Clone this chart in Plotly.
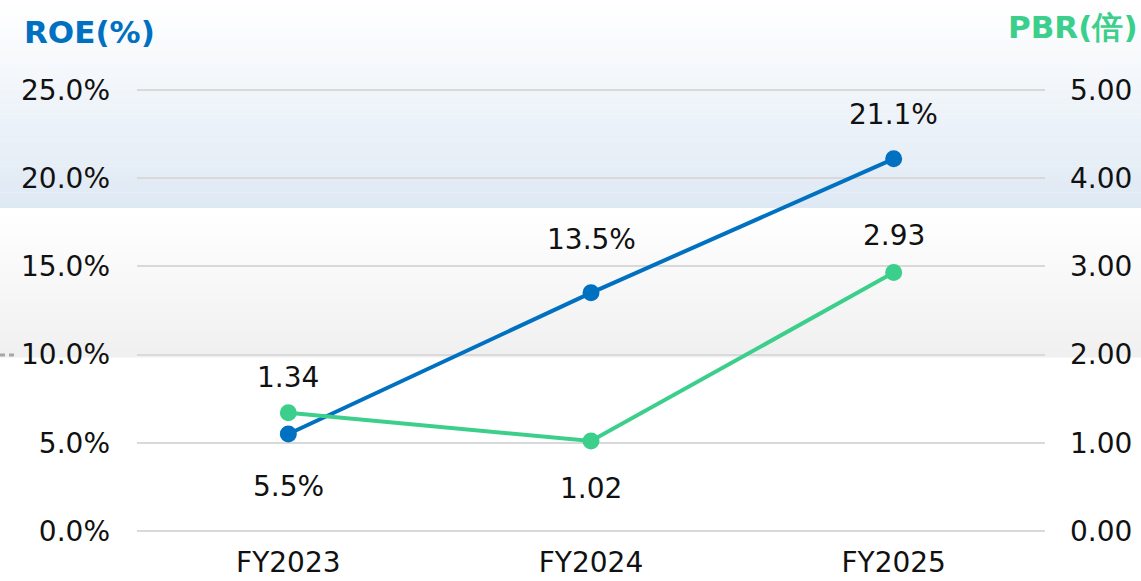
import plotly.graph_objects as go

# data
years = ['FY2023', 'FY2024', 'FY2025']
roe = [5.5, 13.5, 21.1]          # %
pbr = [1.34, 1.02, 2.93]         # 倍

roe_ticks = [0, 5, 10, 15, 20, 25]
pbr_ticks = [0, 1, 2, 3, 4, 5]

# label offsets (px) above/below the markers
roe_shift = [-53, 53, 44]
pbr_shift = [35, -47, 37]

blue = '#0070c0'
green = '#3ccf8b'
font_name = 'DejaVu Sans'

W, H = 1141, 581
pad = 2  # px of extra room so the edge gridlines are drawn
L, R, T, B = 137, 96, 90 - pad, 50 - pad
pw, ph = W - L - R, H - T - B
inner = ph - 2 * pad
roe_pad = pad / inner * 25
pbr_pad = pad / inner * 5

def px(x):
    return (x - L) / pw

def py(y):
    return (H - B - y) / ph

fig = go.Figure()

fig.add_trace(go.Scatter(
    x=years, y=roe, mode='lines+markers', name='ROE',
    line=dict(color=blue, width=4), marker=dict(size=17, color=blue),
    cliponaxis=False, hoverinfo='skip',
))
fig.add_trace(go.Scatter(
    x=years, y=pbr, mode='lines+markers', name='PBR', yaxis='y2',
    line=dict(color=green, width=4), marker=dict(size=17, color=green),
    cliponaxis=False, hoverinfo='skip',
))

annotations = []
for xv, v, s in zip(years, roe, roe_shift):
    annotations.append(dict(x=xv, y=v, xref='x', yref='y', text=f'{v:.1f}%',
                            yshift=s, showarrow=False,
                            font=dict(size=28, color='#111111', family=font_name)))
for xv, v, s in zip(years, pbr, pbr_shift):
    annotations.append(dict(x=xv, y=v, xref='x', yref='y2', text=f'{v:.2f}',
                            yshift=s, showarrow=False,
                            font=dict(size=28, color='#111111', family=font_name)))

annotations += [
    dict(text='<b>ROE(%)</b>', xref='paper', yref='paper',
         x=px(22), y=py(32), xanchor='left', yanchor='middle',
         showarrow=False, font=dict(size=31, color=blue, family=font_name)),
    dict(text='<b>PBR(倍)</b>', xref='paper', yref='paper',
         x=px(1140), y=py(27), xanchor='right', yanchor='middle',
         showarrow=False, font=dict(size=31, color=green, family=font_name)),
]

# background gradient bands (blue top, grey middle)
shapes = []
n = 40
def band(y_top, y_bot, c_top, c_bot):
    for i in range(n):
        t = i / (n - 1)
        c = tuple(int(round(a + (b - a) * t)) for a, b in zip(c_top, c_bot))
        y0 = y_top + (y_bot - y_top) * i / n
        y1 = y_top + (y_bot - y_top) * (i + 1) / n
        shapes.append(dict(
            type='rect', xref='paper', yref='paper', layer='below',
            x0=px(0), x1=px(W), y0=py(y1) - 0.001, y1=py(y0),
            fillcolor='rgb(%d,%d,%d)' % c, line=dict(width=0),
        ))

band(0, 208, (255, 255, 255), (223, 233, 244))
band(208, 357, (255, 255, 255), (240, 240, 240))

shapes.append(dict(
    type='line', xref='paper', yref='paper', x0=px(0), x1=px(17),
    y0=py(355), y1=py(355), line=dict(color='#a6a6a6', width=3, dash='5px,4px'),
))

fig.update_layout(
    width=W, height=H,
    margin=dict(l=L, r=R, t=T, b=B),
    paper_bgcolor='white', plot_bgcolor='rgba(0,0,0,0)',
    showlegend=False,
    font=dict(family=font_name, size=28, color='#111111'),
    shapes=shapes,
    annotations=annotations,
    xaxis=dict(range=[-0.5, 2.5], showgrid=False, zeroline=False,
               showline=False, ticks='', ticklabelstandoff=10,
               automargin=False),
    yaxis=dict(range=[-roe_pad, 25 + roe_pad], tickvals=roe_ticks,
               ticktext=[f'{v:.1f}%' for v in roe_ticks],
               showgrid=True, gridcolor='#d9d9d9', gridwidth=2,
               zeroline=False, ticks='', ticklabelstandoff=24 + pad,
               automargin=False),
    yaxis2=dict(range=[-pbr_pad, 5 + pbr_pad], tickvals=pbr_ticks,
                ticktext=[f'{v:.2f}' for v in pbr_ticks],
                overlaying='y', side='right', showgrid=False,
                zeroline=False, ticks='', ticklabelstandoff=24,
                automargin=False),
)

fig.write_html('out.html', config={'displayModeBar': False},
               post_script="document.body.style.margin='0';")
